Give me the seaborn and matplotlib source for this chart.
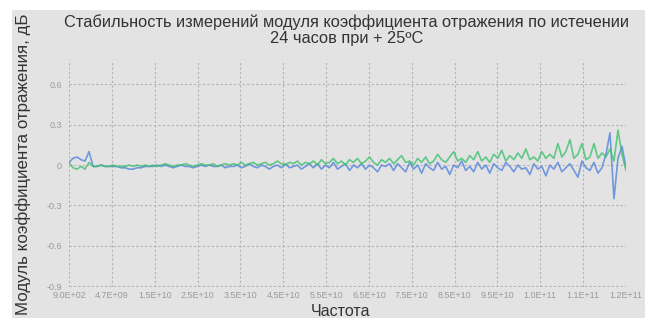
import numpy as np
import pandas as pd
import matplotlib
matplotlib.use("Agg")
import matplotlib.pyplot as plt
import seaborn as sns
from matplotlib.patches import Rectangle

sns.set_style("white")
plt.rcParams['font.family'] = ['Liberation Sans', 'DejaVu Sans']

title_text = "Стабильность измерений модуля коэффициента отражения по истечении\n24 часов при + 25ºC"
y_label = "Модуль коэффициента отражения, дБ"
x_label = "Частота"

x_tick_labels = ["9.0E+02", "4.7E+09", "1.5E+10", "2.5E+10", "3.5E+10", "4.5E+10",
                 "5.5E+10", "6.5E+10", "7.5E+10", "8.5E+10", "9.5E+10", "1.0E+11",
                 "1.1E+11", "1.2E+11"]
y_ticks = [-0.9, -0.6, -0.3, 0.0, 0.3, 0.6]
y_tick_labels = ["-0.9", "-0.6", "-0.3", "0", "0.3", "0.6"]

series_blue = [
    0.02, 0.05, 0.06, 0.04, 0.03, 0.10,
    -0.01, -0.01, 0.00, -0.01, -0.01,
    -0.01, -0.01, -0.02, -0.02, -0.03, -0.03, -0.02, -0.02, -0.01, -0.01,
    -0.01, 0.0, -0.01, 0.0, -0.01, -0.02, -0.01, 0.0, -0.01, -0.01,
    -0.02, -0.01, 0.0, -0.01, 0.0, -0.01, -0.01, 0.0, -0.02, -0.01,
    -0.01, 0.0, -0.02, -0.01, 0.01, -0.01, -0.02, 0.0, -0.01, -0.03,
    -0.01, 0.0, -0.02, 0.01, -0.02, -0.01, 0.0, -0.03, -0.01, 0.01,
    -0.02, 0.01, -0.03, 0.0, -0.02, 0.02, -0.03, -0.01, 0.01, -0.04,
    0.0, -0.02, 0.01, -0.03, 0.0, -0.02, -0.05, 0.0, -0.01, 0.01,
    -0.04, 0.01, -0.02, -0.05, 0.02, -0.03, 0.0, -0.06, 0.01, -0.02,
    -0.04, 0.02, -0.03, -0.01, -0.07, 0.0, -0.02, 0.03, -0.04, -0.01,
    -0.05, 0.02, -0.03, 0.0, -0.06, 0.01, -0.02, -0.04, 0.02, -0.01,
    -0.05, 0.0, -0.03, -0.02, -0.07, 0.01, -0.03, -0.01, -0.08, 0.0,
    -0.03, 0.02, -0.05, -0.02, 0.01, -0.04, -0.09, 0.03, -0.02,
    -0.04, 0.02, -0.06, -0.02, 0.08, 0.24, -0.25, 0.05, 0.14, -0.02,
]

series_green = [
    0.02, -0.02, -0.03, -0.01, -0.03, 0.02,
    -0.01, -0.01, 0.0, -0.01, -0.01, 0.0, -0.01, -0.01, -0.01, 0.0,
    -0.01, 0.0, -0.01, 0.0, -0.01,
    0.0, -0.01, 0.0, 0.01, 0.0, -0.01, 0.0, 0.0, 0.01, 0.0,
    -0.01, 0.0, 0.01, 0.0, 0.0, 0.01, -0.01, 0.0, 0.01, 0.0,
    0.01, 0.0, 0.02, 0.0, 0.01, 0.02, 0.0, 0.01, 0.02, 0.0,
    0.01, 0.03, 0.01, 0.0, 0.02, 0.01, 0.03, 0.0, 0.02, 0.01,
    0.03, 0.0, 0.04, 0.01, 0.02, 0.05, 0.01, 0.03, 0.0, 0.04,
    0.02, 0.05, 0.01, 0.03, 0.06, 0.02, 0.0, 0.04, 0.02, 0.05,
    0.01, 0.04, 0.07, 0.02, 0.03, 0.0, 0.05, 0.02, 0.06, 0.01,
    0.03, 0.08, 0.04, 0.02, 0.06, 0.10, 0.03, 0.05, 0.02, 0.07,
    0.04, 0.10, 0.03, 0.06, 0.02, 0.08, 0.05, 0.11, 0.03, 0.07,
    0.04, 0.09, 0.05, 0.12, 0.04, 0.06, 0.03, 0.10, 0.05, 0.08,
    0.05, 0.16, 0.06, 0.10, 0.19, 0.05, 0.08, 0.16, 0.04, 0.06,
    0.16, 0.05, 0.09, 0.06, 0.12, 0.03, 0.26, 0.08, -0.04,
]

n_points = len(series_blue)
point_index = np.arange(n_points)

df = pd.DataFrame({
    "point": np.concatenate([point_index, point_index]),
    "value": series_blue + series_green,
    "series": ["blue"] * n_points + ["green"] * n_points,
})

W, H = 645, 321
fig = plt.figure(figsize=(W / 100, H / 100), dpi=100)
fig.patch.set_facecolor("white")
panel = "#e3e3e3"
fig.add_artist(Rectangle((12 / W, 1 - 318 / H), 1 - 12 / W, (318 - 10) / H,
                         transform=fig.transFigure, facecolor=panel, edgecolor="none", zorder=0))

ax = fig.add_axes([69 / W, 1 - 287 / H, 557 / W, 227 / H])
ax.set_facecolor(panel)

sns.lineplot(data=df, x="point", y="value", hue="series",
             palette={"blue": "#5584dc", "green": "#3fc070"},
             linewidth=1.2, alpha=0.8, legend=False, ax=ax)

ax.set_xlim(0, n_points - 1)
ax.set_ylim(-0.905, 0.78)
ax.set_xticks(np.linspace(0, n_points - 1, len(x_tick_labels)))
ax.set_xticklabels(x_tick_labels)
ax.set_yticks(y_ticks)
ax.set_yticklabels(y_tick_labels)
ax.tick_params(axis="both", length=0, labelsize=6.5, colors="#9a9a9a")
ax.tick_params(axis="x", pad=3)
ax.tick_params(axis="y", pad=5)
ax.grid(True, linestyle=(0, (2, 2)), color="#b3b3b3", linewidth=0.8)
ax.set_axisbelow(True)
for s in ax.spines.values():
    s.set_visible(False)
ax.set_xlabel("")
ax.set_ylabel("")

fig.text(347 / W, 1 - 43 / H, title_text, ha="center", va="baseline",
         fontsize=11.8, color="#333333", linespacing=1.12)
fig.text(23 / W, 1 - 164 / H, y_label, rotation=90, ha="center", va="center",
         fontsize=12.2, color="#333333")
fig.text(341 / W, 1 - 316 / H, x_label, ha="center", va="baseline",
         fontsize=11.6, color="#333333")

fig.savefig("out.png", dpi=100)
